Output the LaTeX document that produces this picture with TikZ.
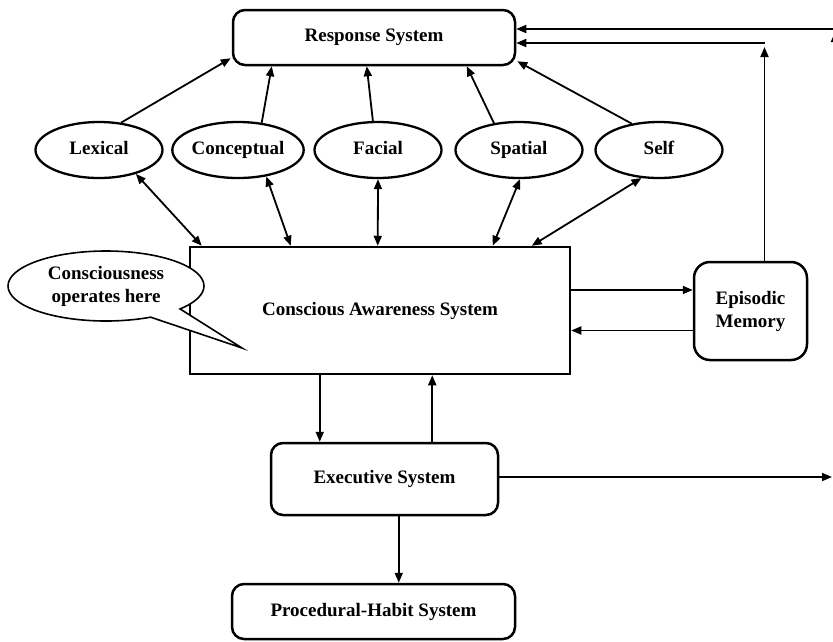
\documentclass[tikz,border=0pt]{standalone}
\usepackage{fontspec}
\setmainfont{Liberation Serif}
\usetikzlibrary{arrows.meta,calc,shapes.geometric,shapes.callouts}
\begin{document}
\begin{tikzpicture}[x=1pt,y=-1pt,
  font=\fontsize{19}{23}\selectfont\bfseries,
  sysbox/.style={draw,line width=2.5pt,rounded corners=12pt,inner sep=0pt,align=center},
  plainbox/.style={draw,line width=2.5pt,inner sep=0pt,align=center},
  module/.style={draw,ellipse,line width=2.3pt,minimum width=127pt,minimum height=56pt,inner sep=0pt,
                 text height=13pt,text depth=4pt},
  tip/.tip={Triangle[length=10pt,width=8pt]},
  arr/.style={line width=1.8pt,-tip},
  darr/.style={line width=1.8pt,tip-tip}]
\useasboundingbox (0,0) rectangle (833,641);

% main systems
\node[sysbox,minimum width=282pt,minimum height=55pt] (resp) at (374,37.5) {Response System};
\node[plainbox,minimum width=380pt,minimum height=127pt] (cas) at (380,310.5) {Conscious Awareness System};
\node[sysbox,rounded corners=16pt,minimum width=113pt,minimum height=98pt] (epi) at (750.5,311) {Episodic\\Memory};
\node[sysbox,minimum width=227pt,minimum height=72pt] (exec) at (384.5,479) {Executive System};
\node[sysbox,minimum width=283pt,minimum height=55pt] (proc) at (373.5,611.5) {Procedural-Habit System};

% knowledge modules
\node[module] (lex)  at (99,150)  {Lexical};
\node[module] (con)  at (238,150) {Conceptual};
\node[module] (fac)  at (378,150) {Facial};
\node[module] (spa)  at (519,150) {Spatial};
\node[module] (self) at (659,150) {Self};

% modules feed the response system
\draw[arr] (lex.51)   -- ($(resp.south west)+(-1,-8)$);
\draw[arr] (con.49)   -- ($(resp.south west)+(40,0)$);
\draw[arr] (fac.100)  -- ($(resp.south west)+(135,0)$);
\draw[arr] (spa.133)  -- ($(resp.south west)+(235,0)$);
\draw[arr] (self.136) -- ($(resp.south east)+(1,-5)$);

% modules exchange with conscious awareness
\draw[darr] (lex.-33)   -- ($(cas.north west)+(13,0)$);
\draw[darr] (con.-43)   -- ($(cas.north west)+(102,0)$);
\draw[darr] (fac.-90)   -- ($(cas.north west)+(189,0)$);
\draw[darr] (spa.-88)   -- ($(cas.north west)+(304,0)$);
\draw[darr] (self.-122) -- ($(cas.north west)+(343,0)$);

% conscious awareness <-> episodic memory
\draw[arr] ([yshift=20.5pt]cas.east) -- ([yshift=20.5pt]cas.east -| epi.west);
\draw[arr] ([yshift=-19.5pt]epi.west) -- ([yshift=-19.5pt]epi.west -| cas.east);

% returns into the response system
\coordinate (c1) at (764.5,43);
\coordinate (c2) at (835,29);
\draw[arr] ($(epi.north)+(14,0)$) -- ($(c1)+(0,4)$);
\draw[arr] (c1) -- (c1 -| resp.east);
\draw[arr] ($(c2)+(0,40)$) -- ($(c2)+(0,3)$);
\draw[arr] (c2) -- (c2 -| resp.east);

% conscious awareness <-> executive system
\path ($(cas.south west)+(131,0)$) coordinate (d1);
\path ($(exec.north west)+(162.5,0)$) coordinate (d2);
\draw[arr] (d1) -- (d1 |- exec.north);
\draw[arr] (d2) -- (d2 |- cas.south);

% executive outputs
\coordinate (out) at (832,477);
\draw[arr] ([yshift=2pt]exec.east) -- (out);
\path ($(exec.south west)+(129,0)$) coordinate (d3);
\draw[arr] (d3) -- (d3 |- proc.north);

% speech bubble
\node[draw,fill=white,line width=1.6pt,ellipse callout,callout absolute pointer={(242,348)},
      callout pointer arc=22,minimum width=196pt,minimum height=70pt,inner sep=0pt,align=center]
      (bubble) at (106,286) {Consciousness\\operates here};
\end{tikzpicture}
\end{document}
